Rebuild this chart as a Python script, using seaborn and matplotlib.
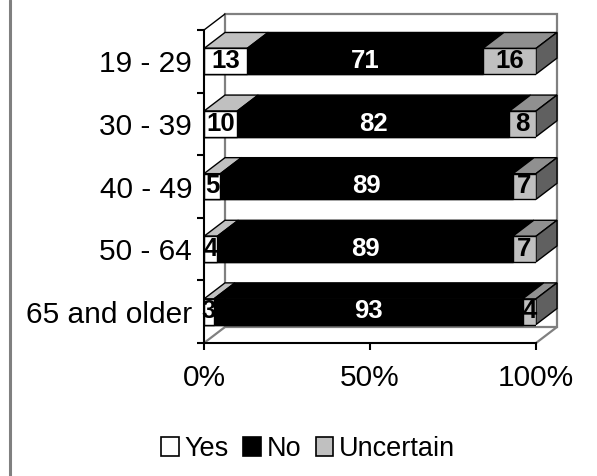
"""
Stacked 100% bar chart drawn with seaborn, with a fake 3D look
added on top of the bars.
"""
import matplotlib.pyplot as plt
import pandas as pd
import seaborn as sns
from matplotlib.lines import Line2D
from matplotlib.patches import Patch, Polygon
from matplotlib.ticker import FixedLocator

groups = ['19 - 29', '30 - 39', '40 - 49', '50 - 64', '65 and older']
yes = [13, 10, 5, 4, 3]
no = [71, 82, 89, 89, 93]
uncertain = [16, 8, 7, 7, 4]
tick_values = [0, 50, 100]
tick_labels = ['0%', '50%', '100%']

# front, top and side colour of each segment
series_colors = {
    'Yes': ('#ffffff', '#c0c0c0', '#c0c0c0'),
    'No': ('#000000', '#000000', '#000000'),
    'Uncertain': ('#c0c0c0', '#909090', '#606060'),
}
label_colors = {'Yes': 'black', 'No': 'white', 'Uncertain': 'black'}

FIG_W, FIG_H = 597, 476
LEFT, RIGHT, TOP, BOTTOM = 204, 536, 30, 343
DEPTH_X = 21 / (RIGHT - LEFT) * 100
DEPTH_Y = 16 / (BOTTOM - TOP) * 5
BAR_H = 0.41


def draw_walls(ax):
    '''gray back wall and floor edges behind the bars'''
    x0, x1 = 0, 100
    y0, y1 = -0.5, 4.5
    back = [(x0 + DEPTH_X, y0 - DEPTH_Y), (x1 + DEPTH_X, y0 - DEPTH_Y),
            (x1 + DEPTH_X, y1 - DEPTH_Y), (x0 + DEPTH_X, y1 - DEPTH_Y)]
    ax.add_patch(Polygon(back, closed=True, fill=False, edgecolor='#808080',
                         lw=1.6, zorder=0.5, clip_on=False))
    ax.plot([x0, x0 + DEPTH_X], [y1, y1 - DEPTH_Y], color='#808080', lw=1.6,
            zorder=0.5, clip_on=False)
    ax.plot([x1, x1 + DEPTH_X], [y1, y1 - DEPTH_Y], color='#808080', lw=1.6,
            zorder=0.5, clip_on=False)
    ax.plot([x0, x0 + DEPTH_X], [y0, y0 - DEPTH_Y], color='black', lw=1,
            zorder=0.5, clip_on=False)


def draw_depth(ax, row, start, stop, name):
    '''top face of one segment, plus the side face on the last one'''
    _, top_color, side_color = series_colors[name]
    up = row - BAR_H / 2
    down = row + BAR_H / 2
    top = [(start, up), (stop, up), (stop + DEPTH_X, up - DEPTH_Y),
           (start + DEPTH_X, up - DEPTH_Y)]
    ax.add_patch(Polygon(top, closed=True, facecolor=top_color,
                         edgecolor='black', lw=1, zorder=2, clip_on=False))
    if name == 'Uncertain':
        side = [(stop, up), (stop + DEPTH_X, up - DEPTH_Y),
                (stop + DEPTH_X, down - DEPTH_Y), (stop, down)]
        ax.add_patch(Polygon(side, closed=True, facecolor=side_color,
                             edgecolor='black', lw=1, zorder=2,
                             clip_on=False))


def main():
    sns.set_style('white')
    plt.rcParams['font.family'] = ['Liberation Sans', 'DejaVu Sans']

    df = pd.DataFrame({'group': groups, 'Yes': yes, 'No': no,
                       'Uncertain': uncertain})
    shares = df[['Yes', 'No', 'Uncertain']]
    shares = shares.div(shares.sum(axis=1), axis=0) * 100
    ends = shares.cumsum(axis=1)
    starts = ends.shift(1, axis=1).fillna(0)

    fig = plt.figure(figsize=(FIG_W / 100, FIG_H / 100), dpi=100)
    ax = fig.add_axes([LEFT / FIG_W, 1 - BOTTOM / FIG_H,
                       (RIGHT - LEFT) / FIG_W, (BOTTOM - TOP) / FIG_H])

    # longest stack first, the shorter ones paint over it
    for name in ['Uncertain', 'No', 'Yes']:
        sns.barplot(x=ends[name], y=df['group'], orient='h', ax=ax,
                    color=series_colors[name][0], saturation=1, width=BAR_H,
                    edgecolor='black', linewidth=1, zorder=3)

    for name in ['Yes', 'No', 'Uncertain']:
        for row in range(len(groups)):
            start = starts[name][row]
            stop = ends[name][row]
            draw_depth(ax, row, start, stop, name)
            ax.text((start + stop) / 2, row - 0.005, df[name][row],
                    ha='center', va='center', fontsize=18.5,
                    fontweight='bold', color=label_colors[name], zorder=5)

    draw_walls(ax)

    ax.set_xlim(0, 100)
    ax.set_ylim(4.5, -0.5)
    ax.set_xlabel('')
    ax.set_ylabel('')
    ax.set_xticks(tick_values)
    ax.set_xticklabels(tick_labels, fontsize=21.5)
    ax.tick_params(axis='x', length=5, width=1.5, color='black', pad=10,
                   bottom=True, labelcolor='black')
    ax.tick_params(axis='y', which='major', length=0, pad=8.5,
                   labelsize=21.5, labelcolor='black')
    ax.yaxis.set_minor_locator(FixedLocator([-0.5, 0.5, 1.5, 2.5, 3.5, 4.5]))
    ax.tick_params(axis='y', which='minor', length=5, width=1.5,
                   color='black', left=True)
    sns.despine(ax=ax)
    for side in ['left', 'bottom']:
        ax.spines[side].set_color('black')
        ax.spines[side].set_linewidth(1.5)
        ax.spines[side].set_zorder(6)

    handles = [Patch(facecolor=series_colors[n][0], edgecolor='black', lw=1.2,
                     label=n) for n in ['Yes', 'No', 'Uncertain']]
    fig.legend(handles=handles, loc='center', ncol=3, frameon=False,
               bbox_to_anchor=(308 / FIG_W, 1 - 449 / FIG_H), fontsize=19.5,
               handlelength=0.65, handleheight=0.65, handletextpad=0.2,
               columnspacing=0.55, borderpad=0, labelcolor='black')

    fig.add_artist(Line2D([9.5 / FIG_W] * 2, [0, 1], color='#808080', lw=2.2))
    fig.savefig('out.png', dpi=100)


if __name__ == '__main__':
    main()
